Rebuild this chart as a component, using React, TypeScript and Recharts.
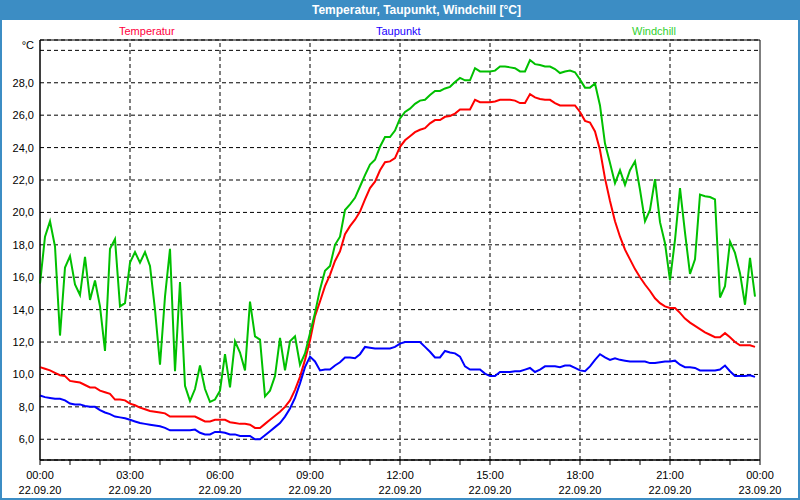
import React from "react";
import {
  CartesianGrid,
  Line,
  LineChart,
  ReferenceArea,
  ReferenceLine,
  XAxis,
  YAxis,
} from "recharts";

// Concrete colours.
const COLORS = {
  frame: "#3c8dc4",
  temp: "#ff0000",
  dew: "#0000ff",
  chill: "#00c000",
  tempText: "#ff0040",
  dewText: "#2000ff",
  chillText: "#30d030",
  ink: "#000000",
};

const FONT = '"Liberation Sans", Arial, sans-serif';

// Samples every 10 minutes, 22.09.20 00:00 .. 23:50 (hours since midnight).
const TIMES = Array.from({ length: 144 }, (_, i) => i / 6);

const TEMPERATUR = [
  10.45, 10.35, 10.25, 10.1, 9.95, 9.9, 9.6, 9.55, 9.5, 9.35, 9.2, 9.2,
  9.0, 8.9, 8.8, 8.45, 8.45, 8.4, 8.2, 8.1, 7.95, 7.85, 7.75, 7.7,
  7.65, 7.6, 7.4, 7.4, 7.4, 7.4, 7.4, 7.4, 7.25, 7.1, 7.1, 7.2,
  7.2, 7.2, 7.05, 7.0, 6.95, 6.95, 6.9, 6.7, 6.7, 6.95, 7.2, 7.45,
  7.7, 8.0, 8.4, 9.05, 9.85, 10.9, 12.1, 13.6, 14.5, 15.45, 16.15, 17.0,
  17.6, 18.65, 19.15, 19.55, 20.05, 20.8, 21.5, 21.9, 22.6, 23.1, 23.15, 23.35,
  24.05, 24.45, 24.7, 24.95, 25.1, 25.2, 25.5, 25.7, 25.7, 25.9, 25.95, 26.1,
  26.35, 26.35, 26.35, 26.95, 26.8, 26.8, 26.8, 26.85, 26.95, 26.95, 26.95, 26.9,
  26.75, 26.75, 27.3, 27.1, 27.0, 26.95, 26.95, 26.75, 26.6, 26.6, 26.6, 26.6,
  26.2, 25.65, 25.55, 25.0, 23.85, 22.1, 20.7, 19.45, 18.5, 17.7, 17.1, 16.5,
  16.0, 15.55, 15.15, 14.7, 14.4, 14.2, 14.1, 14.1, 13.8, 13.45, 13.2, 13.0,
  12.8, 12.6, 12.45, 12.3, 12.3, 12.55, 12.3, 12.0, 11.8, 11.8, 11.8, 11.7,
];

const TAUPUNKT = [
  8.7, 8.6, 8.55, 8.5, 8.5, 8.4, 8.2, 8.15, 8.15, 8.05, 8.0, 8.0,
  7.8, 7.65, 7.55, 7.4, 7.35, 7.3, 7.2, 7.1, 7.0, 6.95, 6.9, 6.85,
  6.8, 6.7, 6.55, 6.55, 6.55, 6.55, 6.55, 6.6, 6.4, 6.3, 6.3, 6.45,
  6.45, 6.4, 6.3, 6.3, 6.2, 6.2, 6.2, 6.0, 6.0, 6.25, 6.5, 6.75,
  7.0, 7.4, 7.9, 8.55, 9.45, 10.45, 11.1, 10.8, 10.25, 10.3, 10.3, 10.55,
  10.75, 11.05, 11.05, 11.0, 11.25, 11.7, 11.65, 11.6, 11.6, 11.6, 11.6, 11.7,
  11.9, 12.0, 12.0, 12.0, 12.0, 11.7, 11.4, 11.05, 11.05, 11.45, 11.35, 11.3,
  11.1, 10.5, 10.3, 10.3, 10.3, 10.05, 9.9, 9.9, 10.15, 10.15, 10.15, 10.2,
  10.2, 10.3, 10.4, 10.15, 10.3, 10.5, 10.5, 10.5, 10.45, 10.55, 10.55, 10.4,
  10.25, 10.2, 10.5, 10.9, 11.25, 11.05, 10.9, 11.0, 10.9, 10.85, 10.8, 10.8,
  10.8, 10.8, 10.7, 10.7, 10.75, 10.8, 10.8, 10.85, 10.6, 10.45, 10.45, 10.4,
  10.25, 10.25, 10.25, 10.25, 10.3, 10.55, 10.2, 9.9, 9.9, 9.9, 9.95, 9.85,
];

const WINDCHILL = [
  15.6, 18.5, 19.45, 17.9, 12.4, 16.6, 17.3, 15.55, 14.9, 17.25, 14.6, 15.8,
  14.2, 11.45, 17.75, 18.35, 14.2, 14.4, 16.9, 17.55, 16.9, 17.55, 16.7, 14.0,
  10.6, 14.8, 17.75, 10.2, 15.7, 9.3, 8.35, 9.1, 10.55, 9.1, 8.3, 8.45,
  9.0, 11.25, 9.2, 12.05, 11.35, 10.25, 14.5, 12.35, 12.15, 8.65, 9.0, 9.9,
  12.25, 10.25, 12.05, 12.35, 10.6, 11.3, 12.55, 13.8, 15.25, 16.4, 16.7, 18.0,
  18.5, 20.15, 20.5, 20.9, 21.6, 22.3, 22.95, 23.25, 24.05, 24.65, 24.65, 25.05,
  25.8, 26.2, 26.4, 26.7, 26.9, 26.95, 27.25, 27.5, 27.5, 27.65, 27.75, 28.05,
  28.3, 28.15, 28.15, 28.9, 28.7, 28.7, 28.7, 28.75, 29.0, 29.0, 28.95, 28.9,
  28.7, 28.7, 29.4, 29.15, 29.1, 29.0, 29.0, 28.85, 28.6, 28.7, 28.75, 28.65,
  28.2, 27.7, 27.7, 27.95, 26.6, 24.25, 23.05, 21.8, 22.6, 21.7, 22.6, 23.15,
  21.4, 19.45, 20.15, 22.05, 19.4, 18.1, 15.8, 18.3, 21.5, 18.75, 16.2, 17.1,
  21.1, 21.0, 20.95, 20.8, 14.75, 15.45, 18.2, 17.5, 16.25, 14.3, 17.2, 14.8,
];

const MAJOR_HOURS = [0, 3, 6, 9, 12, 15, 18, 21, 24];
const TICK_TIMES = ["00:00", "03:00", "06:00", "09:00", "12:00", "15:00", "18:00", "21:00", "00:00"];
const TICK_DATES = ["22.09.20", "22.09.20", "22.09.20", "22.09.20", "22.09.20", "22.09.20", "22.09.20", "22.09.20", "23.09.20"];
const MINOR_HOURS = Array.from({ length: 25 }, (_, i) => i);
const Y_TICKS = [6, 8, 10, 12, 14, 16, 18, 20, 22, 24, 26, 28, 30];
const Y_DOMAIN: [number, number] = [4.72, 30.64];

const data = TIMES.map((t, i) => ({
  t,
  temperatur: TEMPERATUR[i],
  taupunkt: TAUPUNKT[i],
  windchill: WINDCHILL[i],
}));

function TimeTick({ x, y, payload }: any) {
  const idx = MAJOR_HOURS.indexOf(payload.value);
  if (idx < 0) return <g />;
  return (
    <g fontFamily={FONT} fontSize={11} fill={COLORS.ink}>
      <text x={x} y={y + 12} textAnchor="middle">
        {TICK_TIMES[idx]}
      </text>
      <text x={x} y={y + 27} textAnchor="middle">
        {TICK_DATES[idx]}
      </text>
    </g>
  );
}

/** 28 -> "28,0"; the top line carries the unit instead of a value. */
function TempTick({ x, y, payload }: any) {
  const v = payload.value as number;
  const label = v === 30 ? "°C" : v.toFixed(1).replace(".", ",");
  return (
    <text
      x={x}
      y={y}
      dy={v === 30 ? -1 : 4}
      textAnchor="end"
      fontFamily={FONT}
      fontSize={11}
      fill={COLORS.ink}
    >
      {label}
    </text>
  );
}

const legendStyle = (left: number, color: string): React.CSSProperties => ({
  position: "absolute",
  left,
  top: 24,
  fontFamily: FONT,
  fontSize: 11,
  lineHeight: "14px",
  color,
});

export default function App() {
  return (
    <div
      style={{
        position: "absolute",
        left: 0,
        top: 0,
        width: 800,
        height: 500,
        background: "#ffffff",
        overflow: "hidden",
      }}
    >
      <LineChart
        width={800}
        height={500}
        data={data}
        margin={{ top: 40, right: 40, bottom: 0, left: 0 }}
        style={{ position: "absolute", left: 0, top: 0 }}
      >
        <CartesianGrid
          vertical={false}
          stroke={COLORS.ink}
          strokeDasharray="4 3"
        />
        {MAJOR_HOURS.slice(1, -1).map((h) => (
          <ReferenceLine
            key={h}
            x={h}
            stroke={COLORS.ink}
            strokeDasharray="4 3"
          />
        ))}
        <ReferenceArea
          x1={0}
          x2={24}
          y1={Y_DOMAIN[0]}
          y2={Y_DOMAIN[1]}
          stroke={COLORS.ink}
          strokeOpacity={1}
          fill="none"
          fillOpacity={0}
        />
        <XAxis
          dataKey="t"
          type="number"
          domain={[0, 24]}
          ticks={MINOR_HOURS}
          interval={0}
          tick={<TimeTick />}
          tickSize={5}
          tickMargin={2}
          tickLine={{ stroke: COLORS.ink }}
          axisLine={{ stroke: COLORS.ink }}
          height={40}
        />
        <YAxis
          type="number"
          domain={Y_DOMAIN}
          ticks={Y_TICKS}
          allowDataOverflow
          tick={<TempTick />}
          tickLine={false}
          tickSize={0}
          tickMargin={6}
          axisLine={{ stroke: COLORS.ink }}
          width={40}
        />
        <Line
          type="linear"
          dataKey="temperatur"
          stroke={COLORS.temp}
          strokeWidth={2}
          dot={false}
          isAnimationActive={false}
        />
        <Line
          type="linear"
          dataKey="taupunkt"
          stroke={COLORS.dew}
          strokeWidth={2}
          dot={false}
          isAnimationActive={false}
        />
        <Line
          type="linear"
          dataKey="windchill"
          stroke={COLORS.chill}
          strokeWidth={2}
          dot={false}
          isAnimationActive={false}
        />
      </LineChart>

      {/* window chrome: title bar and blue frame */}
      <div
        style={{
          position: "absolute",
          left: 0,
          top: 0,
          width: 800,
          height: 20,
          background: COLORS.frame,
        }}
      >
        <span
          style={{
            position: "absolute",
            left: 312,
            top: 3,
            fontFamily: FONT,
            fontSize: 12,
            fontWeight: "bold",
            lineHeight: "14px",
            color: "#ffffff",
            whiteSpace: "nowrap",
          }}
        >
          Temperatur, Taupunkt, Windchill [°C]
        </span>
      </div>
      <div
        style={{
          position: "absolute",
          left: 0,
          top: 0,
          width: 800,
          height: 500,
          boxSizing: "border-box",
          borderLeft: `2px solid ${COLORS.frame}`,
          borderRight: `2px solid ${COLORS.frame}`,
          borderBottom: `2px solid ${COLORS.frame}`,
          pointerEvents: "none",
        }}
      />

      <span style={legendStyle(119, COLORS.tempText)}>Temperatur</span>
      <span style={legendStyle(376, COLORS.dewText)}>Taupunkt</span>
      <span style={legendStyle(632, COLORS.chillText)}>Windchill</span>
    </div>
  );
}
